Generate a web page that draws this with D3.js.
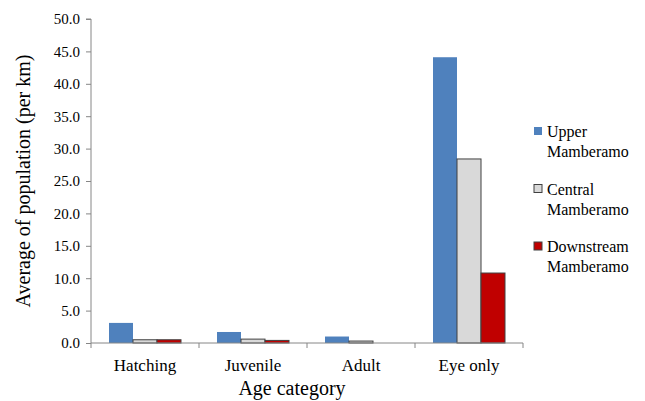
<!DOCTYPE html>
<html>
<head>
<meta charset="utf-8">
<script src="https://cdn.jsdelivr.net/npm/d3@7"></script>
<style>
  body { margin: 0; background: #fff; }
</style>
</head>
<body>
<div id="holder"></div>
<script>
const w = 645;
const h = 401;

// DATA
const categories = ["Hatching", "Juvenile", "Adult", "Eye only"];
const seriesNames = ["Upper Mamberamo", "Central Mamberamo", "Downstream Mamberamo"];
const upper = [3.1, 1.7, 1.0, 44.1];
const central = [0.5, 0.6, 0.3, 28.4];
const downstream = [0.5, 0.4, 0.0, 10.8];
const yTicks = [0, 5, 10, 15, 20, 25, 30, 35, 40, 45, 50];

const colors = ["#4F81BD", "#D9D9D9", "#C00000"];
const strokes = ["none", "#404040", "#404040"];
const values = [upper, central, downstream];

const serif = "Liberation Serif, Times New Roman, Times, DejaVu Serif, serif";
const padLeft = 91, padRight = 523, padTop = 19, padBottom = 343;

const svg = d3.select("#holder")
    .append("svg")
    .attr("width", w)
    .attr("height", h)
    .attr("font-family", serif)

// SCALES
const xScale = d3.scaleBand()
    .domain(categories)
    .range([padLeft, padRight])
    .paddingInner(1 / 3)
    .paddingOuter(1 / 6)

const sub = d3.scaleBand()
    .domain(seriesNames)
    .range([0, xScale.bandwidth()])

const yScale = d3.scaleLinear()
    .domain([0, 50])
    .range([padBottom, padTop])

// Y AXIS
const yAxis = d3.axisLeft(yScale)
    .tickValues(yTicks)
    .tickSize(5)
    .tickFormat(d3.format(".1f"))

const gy = svg.append("g")
    .attr("transform", "translate(" + padLeft + ",0)")
    .call(yAxis)
    .attr("font-family", serif)
    .attr("font-size", 15)
gy.selectAll("path, line").attr("stroke", "#868686")
gy.select(".domain").attr("d", "M-5," + padTop + "H0V" + padBottom)
gy.selectAll("text")
    .attr("x", -11)
    .attr("fill", "#000")

// BARS
seriesNames.forEach(function (name, i) {
    svg.selectAll(".bar" + i)
        .data(values[i])
        .enter()
        .append("rect")
        .attr("x", (d, j) => xScale(categories[j]) + sub(name))
        .attr("y", (d) => yScale(d))
        .attr("width", sub.bandwidth())
        .attr("height", (d) => yScale(0) - yScale(d))
        .attr("fill", colors[i])
        .attr("stroke", (d) => d > 0 ? strokes[i] : "none")
        .attr("stroke-width", 1)
})

// X AXIS
const step = xScale.step();
const gx = svg.append("g")
    .attr("transform", "translate(0," + padBottom + ")")
gx.append("line")
    .attr("x1", padLeft).attr("x2", padRight)
    .attr("stroke", "#868686")
gx.selectAll(".tick")
    .data(d3.range(categories.length + 1))
    .enter()
    .append("line")
    .attr("x1", (d) => padLeft + d * step)
    .attr("x2", (d) => padLeft + d * step)
    .attr("y1", 0).attr("y2", 5)
    .attr("stroke", "#868686")
gx.selectAll(".lab")
    .data(categories)
    .enter()
    .append("text")
    .attr("x", (d) => xScale(d) + xScale.bandwidth() / 2)
    .attr("y", 28)
    .attr("text-anchor", "middle")
    .attr("font-size", 17)
    .text((d) => d)

// AXIS TITLES
svg.append("text")
    .attr("x", (padLeft + padRight) / 2 - 15)
    .attr("y", 395)
    .attr("text-anchor", "middle")
    .attr("font-size", 20)
    .text("Age category")

svg.append("text")
    .attr("transform", "translate(30," + ((padTop + padBottom) / 2) + ") rotate(-90)")
    .attr("text-anchor", "middle")
    .attr("font-size", 20)
    .text("Average of population (per km)")

// LEGEND
const legend = svg.selectAll(".legend")
    .data(seriesNames)
    .enter()
    .append("g")
    .attr("transform", (d, i) => "translate(534," + (127 + i * 57.5) + ")")

legend.append("rect")
    .attr("width", 8).attr("height", 8)
    .attr("fill", (d, i) => colors[i])
    .attr("stroke", (d, i) => strokes[i])

legend.append("text")
    .attr("x", 13)
    .attr("y", 10)
    .attr("font-size", 16)
    .text((d) => d.split(" ")[0])

legend.append("text")
    .attr("x", 13)
    .attr("y", 30)
    .attr("font-size", 16)
    .text((d) => d.split(" ")[1])
</script>
</body>
</html>
